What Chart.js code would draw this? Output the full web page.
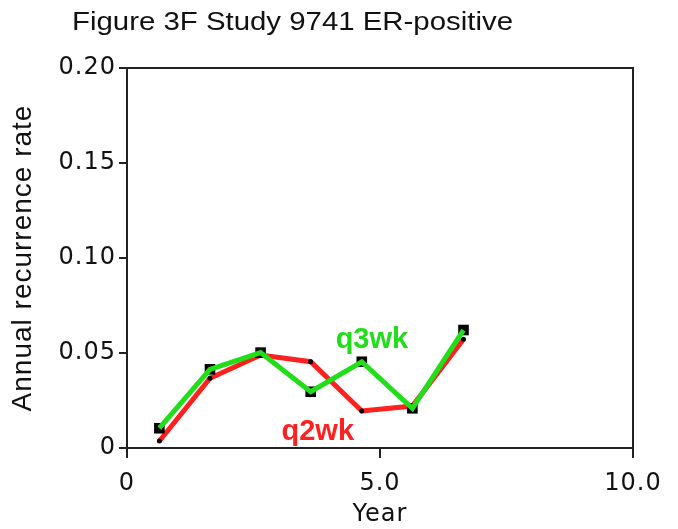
<!DOCTYPE html>
<html>
<head>
<meta charset="utf-8">
<script src="https://cdn.jsdelivr.net/npm/chart.js@4.4.1/dist/chart.umd.min.js"></script>
<style>
  html, body { margin: 0; padding: 0; background: #fff; }
  #wrap { width: 678px; height: 529px; }
</style>
</head>
<body>
<div id="wrap"><canvas id="grafico" width="678" height="529"></canvas></div>
<script>
// dados
const anos = [0.64, 1.64, 2.64, 3.63, 4.64, 5.64, 6.65];
const q3wk = [0.0104, 0.0414, 0.0502, 0.0296, 0.0454, 0.0209, 0.0621];
const q2wk = [0.0037, 0.0367, 0.0489, 0.0454, 0.0195, 0.0221, 0.0572];
const yTickLabels = ['0', '0.05', '0.10', '0.15', '0.20'];
const xTickLabels = ['0', '5.0', '10.0'];
const titulo = 'Figure 3F Study 9741 ER-positive';

const pontos = (ys) => anos.map((x, i) => ({ x: x, y: ys[i] }));

const espacar = (chart) => { if ('letterSpacing' in chart.ctx) chart.ctx.letterSpacing = '1px'; };

// rótulos das séries, título e moldura
const extras = {
    id: 'extras',
    beforeLayout: espacar,
    beforeDraw: espacar,
    afterDatasetsDraw(chart) {
        const ctx = chart.ctx;
        const a = chart.chartArea;
        const sx = chart.scales.x, sy = chart.scales.y;
        ctx.save();
        if ('letterSpacing' in ctx) ctx.letterSpacing = '0px';
        ctx.strokeStyle = '#222';
        ctx.lineWidth = 2;
        ctx.beginPath();
        ctx.moveTo(a.left, a.top);
        ctx.lineTo(a.right, a.top);
        ctx.lineTo(a.right, a.bottom);
        ctx.stroke();

        ctx.font = 'bold 29px "Liberation Sans", Arial, sans-serif';
        ctx.textAlign = 'center';
        ctx.textBaseline = 'middle';
        ctx.fillStyle = '#22dd1a';
        ctx.fillText('q3wk', sx.getPixelForValue(4.84), sy.getPixelForValue(0.0568));
        ctx.fillStyle = '#ff2020';
        ctx.fillText('q2wk', sx.getPixelForValue(3.77), sy.getPixelForValue(0.0084));

        ctx.font = '26px "Liberation Sans", Arial, sans-serif';
        ctx.textAlign = 'left';
        ctx.textBaseline = 'alphabetic';
        ctx.fillStyle = '#111';
        const w = ctx.measureText(titulo).width;
        ctx.translate(72, 30);
        ctx.scale(441 / w, 1);
        ctx.fillText(titulo, 0, 0);
        ctx.restore();
    }
};

const fonteEixo = { family: '"DejaVu Sans", Verdana, sans-serif', size: 24 };

new Chart(document.getElementById('grafico').getContext('2d'), {
    type: 'scatter',
    data: {
        datasets: [
            {
                label: 'q2wk',
                data: pontos(q2wk),
                showLine: true,
                borderColor: '#ff2020',
                borderWidth: 5,
                pointRadius: 2.5,
                pointBackgroundColor: '#000',
                pointBorderWidth: 0,
                order: 3
            },
            {
                label: 'marcadores',
                data: pontos(q3wk),
                showLine: false,
                pointStyle: 'rect',
                pointRadius: 7.5,
                pointBackgroundColor: '#000',
                pointBorderWidth: 0,
                order: 2
            },
            {
                label: 'q3wk',
                data: pontos(q3wk),
                showLine: true,
                borderColor: '#22dd1a',
                borderWidth: 5,
                pointRadius: 0,
                order: 1
            }
        ]
    },
    options: {
        responsive: false,
        animation: false,
        layout: { padding: { left: 0, top: 68, right: 45, bottom: 0 } },
        plugins: {
            legend: { display: false },
            tooltip: { enabled: false }
        },
        scales: {
            x: {
                type: 'linear',
                min: 0,
                max: 10,
                afterFit: s => { s.height = 81; },
                afterBuildTicks: s => { s.ticks = xTickLabels.map(t => ({ value: parseFloat(t) })); },
                ticks: {
                    color: '#111',
                    font: fonteEixo,
                    padding: 11,
                    maxRotation: 0,
                    callback: (v, i) => xTickLabels[i]
                },
                grid: { drawOnChartArea: false, tickLength: 10, color: '#222', lineWidth: 2 },
                border: { display: true, color: '#222', width: 2 },
                title: { display: true, text: 'Year', color: '#111', font: fonteEixo, padding: { top: 0, bottom: 0 } }
            },
            y: {
                min: 0,
                max: 0.20,
                afterFit: s => { s.width = 127; },
                afterBuildTicks: s => { s.ticks = yTickLabels.map(t => ({ value: parseFloat(t) })); },
                ticks: {
                    color: '#111',
                    font: fonteEixo,
                    padding: 3,
                    callback: (v, i) => yTickLabels[i]
                },
                grid: { drawOnChartArea: false, tickLength: 8, color: '#222', lineWidth: 2 },
                border: { display: true, color: '#222', width: 2 },
                title: {
                    display: true,
                    text: 'Annual recurrence rate',
                    color: '#111',
                    font: { family: '"Liberation Sans", Arial, sans-serif', size: 28 },
                    padding: { top: 6, bottom: 0 }
                }
            }
        }
    },
    plugins: [extras]
});
</script>
</body>
</html>
